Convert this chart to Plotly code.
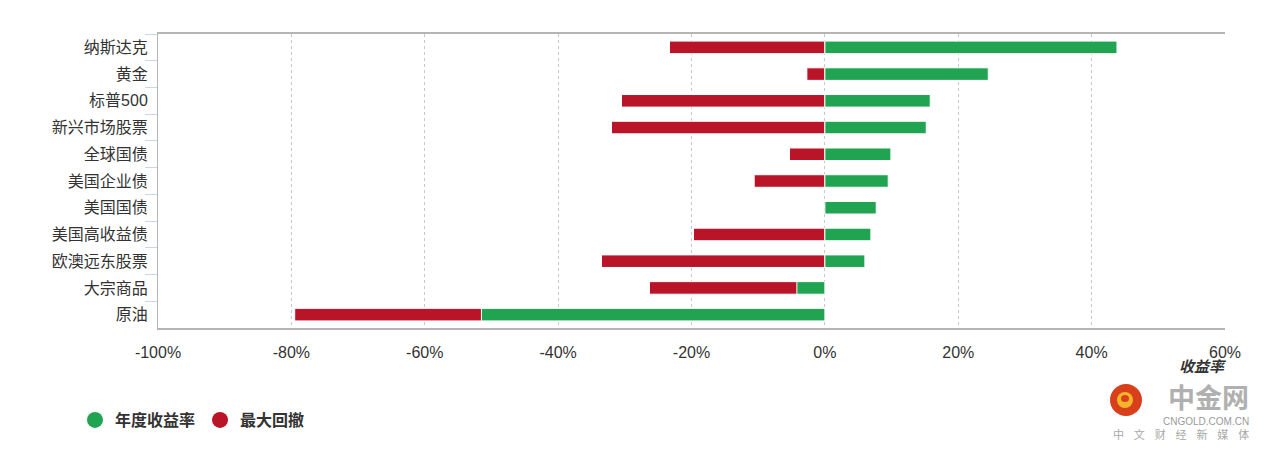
import plotly.graph_objects as go

categories = ["纳斯达克", "黄金", "标普500", "新兴市场股票", "全球国债", "美国企业债",
              "美国国债", "美国高收益债", "欧澳远东股票", "大宗商品", "原油"]
annual_return = [43.8, 24.5, 15.8, 15.2, 9.9, 9.5, 7.7, 6.9, 6.0, -4.2, -51.5]
max_drawdown = [-23.3, -2.7, -30.5, -32.0, -5.3, -10.6, None, -19.7, -33.5, -26.3, -79.5]
tick_vals = [-100, -80, -60, -40, -20, 0, 20, 40, 60]
tick_text = ["-100%", "-80%", "-60%", "-40%", "-20%", "0%", "20%", "40%", "60%"]

GREEN = "#21a452"
RED = "#b91428"
FONT = "Liberation Sans, Noto Sans CJK SC, sans-serif"

L, R, T, B = 158, 1225, 34, 328
PW, PH = R - L, B - T


def px(x):
    return (x - L) / PW


def py(y):
    return (B - y) / PH


fig = go.Figure()
fig.add_trace(go.Bar(y=categories, x=max_drawdown, orientation="h", name="最大回撤",
                     marker=dict(color=RED, line=dict(color="white", width=1)),
                     width=0.47, showlegend=False))
fig.add_trace(go.Bar(y=categories, x=annual_return, orientation="h", name="年度收益率",
                     marker=dict(color=GREEN, line=dict(color="white", width=1)),
                     width=0.47, showlegend=False))
# legend entries with circle symbols
fig.add_trace(go.Scatter(x=[None], y=[None], mode="markers", name="年度收益率",
                         marker=dict(color=GREEN, size=16, symbol="circle")))
fig.add_trace(go.Scatter(x=[None], y=[None], mode="markers", name="最大回撤",
                         marker=dict(color=RED, size=16, symbol="circle")))

sp = "\u00a0" * 4
fig.update_layout(
    width=1267, height=450,
    margin=dict(l=L, r=1267 - R, t=T, b=450 - B),
    barmode="overlay",
    plot_bgcolor="white", paper_bgcolor="white",
    font=dict(family=FONT, size=16, color="#333333"),
    legend=dict(orientation="h", x=px(75), xanchor="left", y=py(420), yanchor="middle",
                font=dict(size=16, color="#333333", weight="bold"),
                itemwidth=30, bgcolor="rgba(0,0,0,0)"),
    xaxis=dict(range=[-100, 60], tickvals=tick_vals, ticktext=tick_text,
               showgrid=True, gridcolor="#c8c8c8", griddash="dot", gridwidth=1,
               zeroline=False, showline=True, mirror=True, linecolor="#b5b5b5",
               linewidth=1.5, ticks="", ticklabelstandoff=9,
               tickfont=dict(size=16, color="#333333")),
    yaxis=dict(categoryorder="array", categoryarray=categories, autorange="reversed",
               showgrid=False, zeroline=False, showline=True, linecolor="#b5b5b5",
               linewidth=1, ticks="outside", tickson="boundaries", ticklen=12,
               tickcolor="#ccd6eb", ticklabelstandoff=6,
               tickfont=dict(size=16, color="#333333")),
    annotations=[
        dict(text="<b><i>收益率</i></b>", xref="paper", yref="paper", x=px(1229), y=py(366),
             xanchor="right", yanchor="middle", showarrow=False,
             font=dict(size=15, color="#333333")),
        dict(text="<b>中金网</b>", xref="paper", yref="paper", x=px(1251), y=py(396),
             xanchor="right", yanchor="middle", showarrow=False,
             font=dict(size=27, color="#b0b0b0", family="Noto Sans CJK SC")),
        dict(text="CNGOLD.COM.CN", xref="paper", yref="paper", x=px(1251), y=py(421),
             xanchor="right", yanchor="middle", showarrow=False,
             font=dict(size=10, color="#9a9a9a")),
        dict(text=sp.join("中文财经新媒体"), xref="paper", yref="paper", x=px(1251), y=py(434),
             xanchor="right", yanchor="middle", showarrow=False,
             font=dict(size=11, color="#a8a8a8", family="Noto Sans CJK SC")),
    ],
    shapes=[
        dict(type="circle", xref="paper", yref="paper", layer="above",
             x0=px(1110), x1=px(1142), y0=py(416), y1=py(384),
             fillcolor="#d8401c", line=dict(width=0)),
        dict(type="circle", xref="paper", yref="paper", layer="above",
             x0=px(1117), x1=px(1133), y0=py(408), y1=py(392),
             fillcolor="#f5b52a", line=dict(width=0)),
        dict(type="circle", xref="paper", yref="paper", layer="above",
             x0=px(1121), x1=px(1129), y0=py(402), y1=py(395),
             fillcolor="#d8401c", line=dict(width=0)),
    ],
)

fig.write_html("out.html", config={"displayModeBar": False},
               post_script="document.body.style.margin='0';document.body.style.overflow='hidden';")
